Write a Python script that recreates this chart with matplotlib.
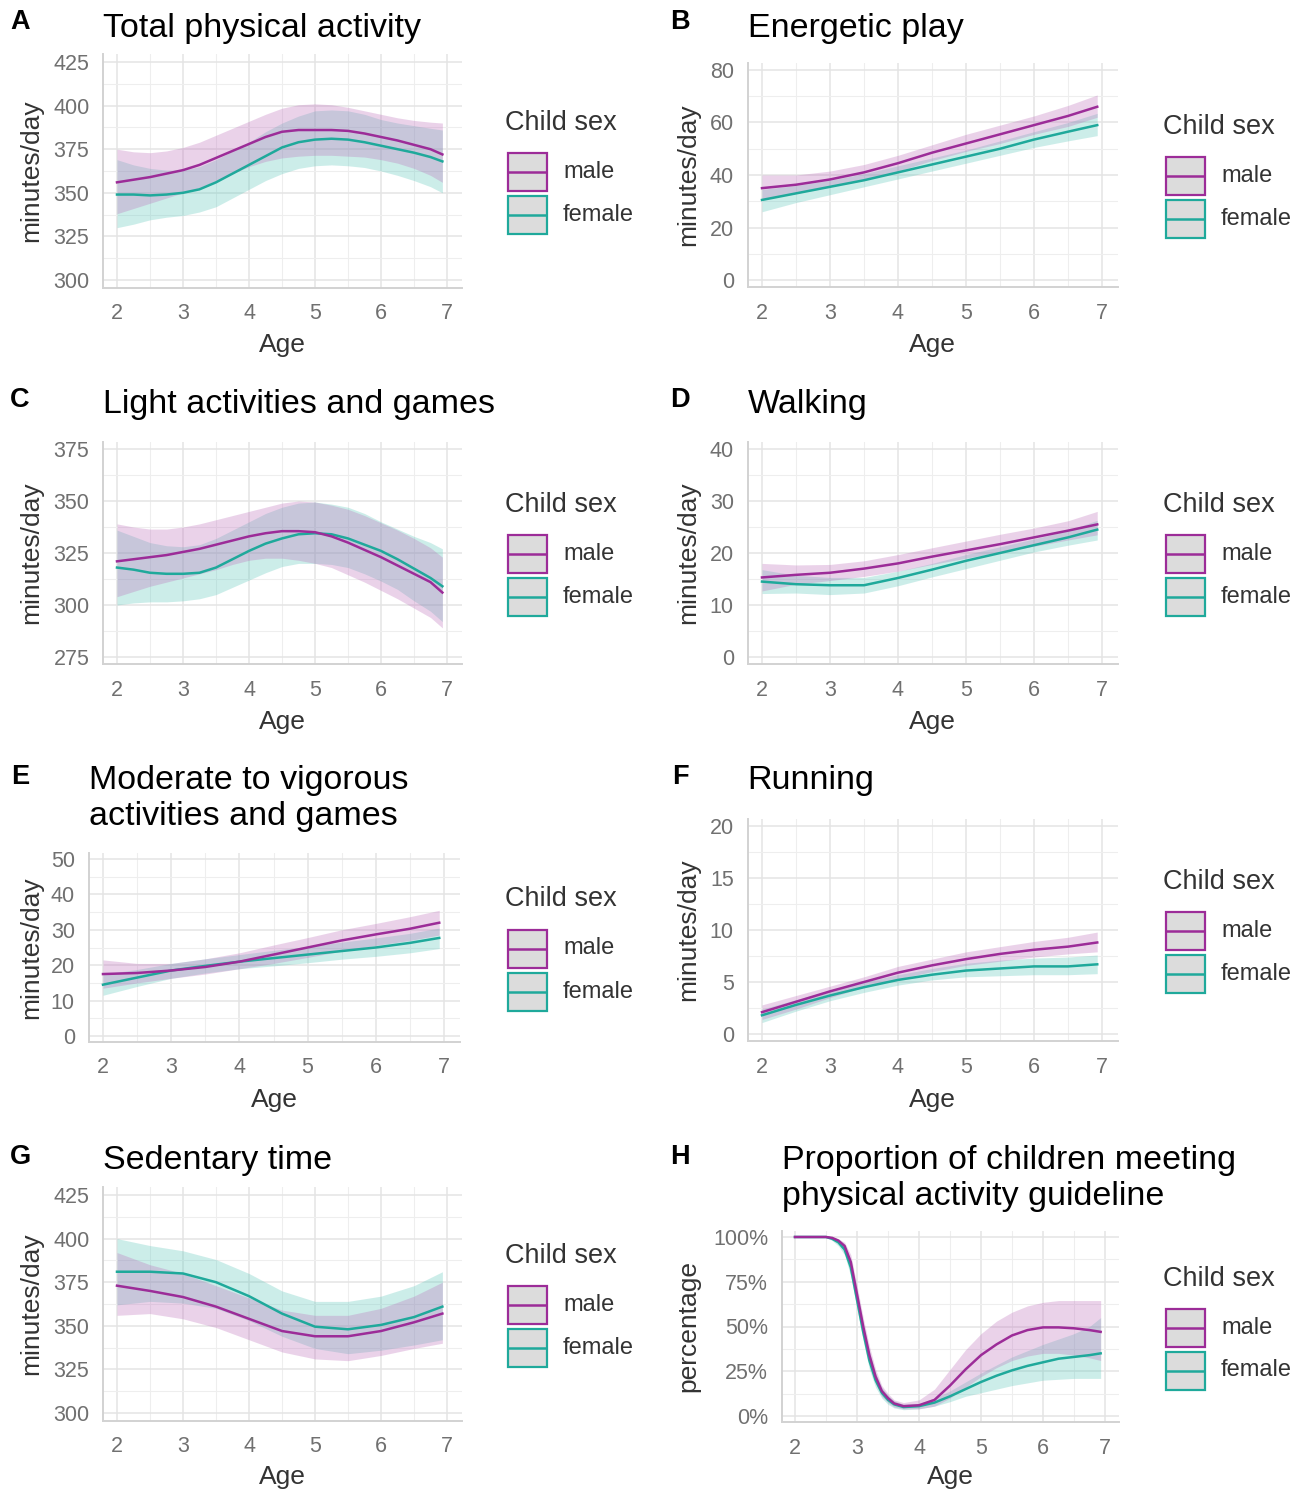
import matplotlib
matplotlib.use("Agg")
import matplotlib.pyplot as plt
from matplotlib.patches import Rectangle
from matplotlib.ticker import MultipleLocator, FuncFormatter

plt.rcParams['font.family'] = ['Liberation Sans', 'DejaVu Sans']

ages_q = [2.0, 2.25, 2.5, 2.75, 3.0, 3.25, 3.5, 3.75, 4.0, 4.25, 4.5,
          4.75, 5.0, 5.25, 5.5, 5.75, 6.0, 6.25, 6.5, 6.75, 6.93]
ages_h = [2.0, 2.5, 3.0, 3.5, 4.0, 4.5, 5.0, 5.5, 6.0, 6.5, 6.93]
ages_g = [2.0, 2.25, 2.5, 2.6, 2.7, 2.8, 2.9, 3.0, 3.1, 3.2, 3.3, 3.4, 3.5, 3.6,
          3.75, 4.0, 4.25, 4.5, 4.75, 5.0, 5.25, 5.5, 5.75, 6.0, 6.25, 6.5, 6.75, 6.93]

# A - total physical activity
a_male = [356, 357.5, 359, 361, 363, 366, 370, 374, 378, 382, 385, 386, 386, 386, 385.5, 384, 382, 380, 377.5, 375, 372]
a_male_hi = [375, 373.5, 373, 374, 376, 379, 383, 387, 391, 395, 398.5, 400.5, 401, 400.5, 399, 397, 395, 393, 391.5, 390.5, 390]
a_male_lo = [338, 341, 344, 347, 350, 353, 357, 361, 365, 368, 370, 371, 371.5, 371.5, 371, 370.5, 369, 367, 364, 360, 356]
a_fem = [349, 349, 348.5, 349, 350, 352, 356, 361, 366, 371, 376, 379, 380.5, 381, 380.5, 379, 377, 375, 373, 370.5, 368]
a_fem_hi = [369, 366, 364, 363, 363, 365, 369, 374, 379, 385, 390, 394, 397, 397.5, 397, 395, 392, 390, 388.5, 387, 386]
a_fem_lo = [330, 332, 334.5, 336, 337, 339, 342, 347, 352, 357, 361, 364, 365.5, 366, 365.5, 364.5, 362.5, 360, 357, 353.5, 350]

# B - energetic play
b_male = [35, 36.3, 38.3, 41, 44.5, 48.5, 52, 55.5, 59, 62.5, 66]
b_male_hi = [40, 40, 41.5, 44, 47.5, 51.5, 55.5, 59, 62.5, 66.5, 70.5]
b_male_lo = [31, 33, 35.5, 38, 41.5, 45.5, 49, 52, 55.5, 58.5, 62]
b_fem = [30.5, 33, 35.5, 38, 41, 44, 47, 50, 53.5, 56.5, 59]
b_fem_hi = [34.5, 36, 38, 40.5, 43.5, 46.5, 49.5, 53, 56.5, 60, 63.5]
b_fem_lo = [26, 29.5, 32.5, 35.5, 38.5, 41.5, 44.5, 47.5, 50.5, 53, 55]

# C - light activities and games
c_male = [321, 322, 323, 324, 325.5, 327, 329, 331, 333, 334.5, 335.5, 335.5, 335, 333, 330, 326.5, 323, 319, 315, 311, 306]
c_male_hi = [339, 337.5, 336.5, 336.5, 337.5, 339, 341, 343, 345, 347, 349, 350, 349.5, 348, 346, 343, 339.5, 336, 332, 327.5, 323]
c_male_lo = [304, 306.5, 309, 311, 313, 315, 317, 319.5, 321.5, 322.5, 322.5, 321.5, 320, 318, 314.5, 311, 307, 303, 298.5, 294, 289]
c_fem = [318, 317, 315.5, 315, 315, 315.5, 318, 322, 326, 329.5, 332, 334, 334.5, 334, 332, 329, 326, 322, 317.5, 313, 309]
c_fem_hi = [336, 333, 330, 328.5, 328, 329, 332, 336, 340, 344, 347, 349, 349.5, 348.5, 347, 344, 340, 336.5, 333, 330, 327]
c_fem_lo = [300, 301, 301.5, 301.5, 302, 303, 305, 308.5, 312, 315.5, 318.5, 320, 320, 319.5, 318, 315, 311.5, 307.5, 302, 297, 292]

# D - walking
d_male = [15.3, 15.8, 16.2, 17, 18, 19.3, 20.5, 21.7, 23, 24.3, 25.5]
d_male_hi = [18, 17.7, 17.8, 18.5, 19.7, 21, 22.3, 23.6, 24.8, 26.2, 28]
d_male_lo = [12.7, 14, 14.7, 15.5, 16.5, 17.8, 19, 20.2, 21.3, 22.5, 23.5]
d_fem = [14.5, 14, 13.8, 13.8, 15.2, 16.8, 18.5, 20, 21.5, 23, 24.5]
d_fem_hi = [16.8, 15.7, 15.3, 15.3, 16.5, 18, 19.7, 21.2, 22.7, 24.3, 26.3]
d_fem_lo = [12.2, 12.3, 12, 12.3, 13.7, 15.4, 17, 18.6, 20.2, 21.5, 22.5]

# E - moderate to vigorous
e_male = [17.5, 17.8, 18.5, 19.5, 21, 23, 25, 27, 28.7, 30.3, 32]
e_male_hi = [21.5, 20.5, 20.5, 21.8, 23.5, 25.7, 27.8, 30, 31.8, 33.7, 35.5]
e_male_lo = [13.5, 15, 16.3, 17.5, 19, 20.5, 22.2, 24, 25.6, 27, 28.5]
e_fem = [14.5, 16.5, 18.5, 19.8, 21, 22, 23, 24, 25, 26.3, 27.7]
e_fem_hi = [17.5, 18.8, 20.5, 21.8, 23, 24.2, 25.3, 26.5, 27.7, 29, 30.5]
e_fem_lo = [11.5, 14, 16.3, 17.8, 19, 19.8, 20.7, 21.7, 22.5, 23.5, 24.7]

# F - running
f_male = [2.1, 3.1, 4.1, 5.0, 5.9, 6.6, 7.2, 7.7, 8.1, 8.4, 8.8]
f_male_hi = [2.8, 3.7, 4.6, 5.5, 6.5, 7.2, 7.9, 8.4, 8.9, 9.3, 9.8]
f_male_lo = [1.4, 2.4, 3.5, 4.5, 5.3, 6.0, 6.6, 7.0, 7.4, 7.7, 7.9]
f_fem = [1.8, 2.8, 3.7, 4.5, 5.2, 5.7, 6.1, 6.3, 6.5, 6.5, 6.7]
f_fem_hi = [2.4, 3.3, 4.2, 5.0, 5.7, 6.3, 6.8, 7.1, 7.3, 7.4, 7.6]
f_fem_lo = [1.1, 2.2, 3.2, 4.0, 4.7, 5.2, 5.5, 5.6, 5.7, 5.7, 5.8]

# G - sedentary time
g_male = [373, 370, 366.5, 361, 354, 347, 344, 344, 347, 352, 357]
g_male_hi = [392, 385, 380, 373, 366, 359, 356, 356, 360, 367, 375]
g_male_lo = [356, 357, 354, 349, 342, 335, 331, 330, 333, 337, 340]
g_fem = [381, 381, 380, 375, 367, 357, 349.5, 348, 350.5, 355, 361]
g_fem_hi = [400, 396, 393, 388, 380, 370, 364, 364, 367, 373, 381]
g_fem_lo = [362, 364, 363, 360, 353, 344, 337, 334, 336, 339, 342]

# H - proportion meeting guideline (%)
h_male = [100, 100, 100, 99.5, 98, 95, 86, 68, 50, 34, 22, 14, 10, 7, 5.5, 6, 9, 17, 26, 34, 40, 45, 48, 49.5, 49.5, 49, 48, 47]
h_male_hi = [100, 100, 100, 100, 99, 97, 90, 73, 55, 39, 26, 17, 12.5, 9, 7.5, 9, 15, 26, 37, 46, 53, 58, 61.5, 63.5, 64.5, 64.5, 64.5, 64.5]
h_male_lo = [100, 100, 100, 99, 97, 93, 82, 63, 45, 29, 18, 11, 7.5, 5, 4, 4, 5.5, 10, 16, 22, 27, 31, 33.5, 35, 35, 34, 32.5, 31]
h_fem = [100, 100, 100, 99, 97, 93, 83, 65, 47, 31, 20, 13, 9, 6.5, 5, 5.5, 7.5, 11, 15, 19, 22.5, 25.5, 28, 30, 32, 33, 34, 35]
h_fem_hi = [100, 100, 100, 100, 98.5, 95.5, 87, 70, 52, 36, 24, 16, 11.5, 8.5, 6.5, 7, 10, 14, 19, 24, 28.5, 33, 36.5, 40, 43, 46, 50, 55]
h_fem_lo = [100, 100, 100, 98, 95, 90, 78, 60, 42, 26, 16, 10, 6.5, 4.5, 3.5, 4, 5.5, 8, 11, 13, 15, 17, 18.5, 20, 20.5, 21, 21, 21]

sexes = ["male", "female"]

W, H = 1303, 1493
MALE, FEMALE = "#9C2C98", "#1FA99B"
MALE_FILL, FEMALE_FILL = "#BC6CB9", "#58C6B9"

# letter, title lines, ages, series, y range, y step, ylabel, pct,
# pixel positions: x of tick 2, x of tick 7, y of top tick, y of bottom tick
panels = [
    ("A", ["Total physical activity"], ages_q,
     (a_male, a_male_lo, a_male_hi, a_fem, a_fem_lo, a_fem_hi),
     (300, 425), 25, "minutes/day", False, (117, 447, 62, 280)),
    ("B", ["Energetic play"], ages_h,
     (b_male, b_male_lo, b_male_hi, b_fem, b_fem_lo, b_fem_hi),
     (0, 80), 20, "minutes/day", False, (762, 1102, 70, 280)),
    ("C", ["Light activities and games"], ages_q,
     (c_male, c_male_lo, c_male_hi, c_fem, c_fem_lo, c_fem_hi),
     (275, 375), 25, "minutes/day", False, (117, 447, 449, 657)),
    ("D", ["Walking"], ages_h,
     (d_male, d_male_lo, d_male_hi, d_fem, d_fem_lo, d_fem_hi),
     (0, 40), 10, "minutes/day", False, (762, 1102, 449, 657)),
    ("E", ["Moderate to vigorous", "activities and games"], ages_h,
     (e_male, e_male_lo, e_male_hi, e_fem, e_fem_lo, e_fem_hi),
     (0, 50), 10, "minutes/day", False, (103, 444, 859, 1036)),
    ("F", ["Running"], ages_h,
     (f_male, f_male_lo, f_male_hi, f_fem, f_fem_lo, f_fem_hi),
     (0, 20), 5, "minutes/day", False, (762, 1102, 826, 1034)),
    ("G", ["Sedentary time"], ages_h,
     (g_male, g_male_lo, g_male_hi, g_fem, g_fem_lo, g_fem_hi),
     (300, 425), 25, "minutes/day", False, (117, 447, 1195, 1413)),
    ("H", ["Proportion of children meeting", "physical activity guideline"], ages_g,
     (h_male, h_male_lo, h_male_hi, h_fem, h_fem_lo, h_fem_hi),
     (0, 100), 25, "percentage", True, (795, 1105, 1237, 1416)),
]

# per row: y of first title line, y of panel letter, y of "Age"
row_title_y = [28, 405, 781, 1160]
row_letter_y = [22, 400, 777, 1157]
row_age_y = [345, 722, 1100, 1477]

fig = plt.figure(figsize=(W / 100, H / 100), dpi=100)

ov = fig.add_axes([0, 0, 1, 1])
ov.set_xlim(0, W)
ov.set_ylim(H, 0)
ov.axis("off")

XLO, XHI = 1.79, 7.23
EXP = 0.035

for idx, (letter, title, ages, ser, (ymin, ymax), ystep, ylab, pct, (x2, x7, yt, yb)) in enumerate(panels):
    row, col = idx // 2, idx % 2
    ppu = (x7 - x2) / 5.0
    left = x2 - (2 - XLO) * ppu
    right = x7 + (XHI - 7) * ppu
    top = yt - EXP * (yb - yt)
    bot = yb + EXP * (yb - yt)
    ax = fig.add_axes([left / W, 1 - bot / H, (right - left) / W, (bot - top) / H])
    rng = ymax - ymin
    ax.set_xlim(XLO, XHI)
    ax.set_ylim(ymin - EXP * rng, ymax + EXP * rng)

    ax.xaxis.set_major_locator(MultipleLocator(1))
    ax.xaxis.set_minor_locator(MultipleLocator(0.5))
    ax.yaxis.set_major_locator(MultipleLocator(ystep))
    ax.yaxis.set_minor_locator(MultipleLocator(ystep / 2))
    if pct:
        ax.yaxis.set_major_formatter(FuncFormatter(lambda v, p: f"{v:.0f}%"))
    ax.grid(which="major", color="#E4E4E4", lw=1.1)
    ax.grid(which="minor", color="#EEEEEE", lw=0.8)
    ax.set_axisbelow(True)
    for s in ["top", "right"]:
        ax.spines[s].set_visible(False)
    for s in ["left", "bottom"]:
        ax.spines[s].set_color("#D2D2D2")
        ax.spines[s].set_linewidth(1.4)
    ax.tick_params(which="both", length=0, labelsize=15.5, labelcolor="#707070")
    ax.tick_params(axis="y", pad=10)
    ax.tick_params(axis="x", pad=11)

    m, mlo, mhi, f, flo, fhi = ser
    ax.fill_between(ages, flo, fhi, color=FEMALE_FILL, alpha=0.3, lw=0)
    ax.fill_between(ages, mlo, mhi, color=MALE_FILL, alpha=0.3, lw=0)
    ax.plot(ages, f, color=FEMALE, lw=1.8)
    ax.plot(ages, m, color=MALE, lw=1.8)

    # panel letter and title
    lx = 20 if col == 0 else 680
    ov.text(lx, row_letter_y[row], letter, fontsize=19.5, fontweight="bold",
            ha="center", va="center", color="black")
    for i, line in enumerate(title):
        ov.text(left, row_title_y[row] + 36 * i, line, fontsize=24.5,
                ha="left", va="center", color="black")

    # axis titles
    cx = (left + right) / 2
    cy = (top + bot) / 2
    ov.text(cx, row_age_y[row], "Age", fontsize=19, ha="center", va="center", color="#333333")
    yx = 31 if col == 0 else 688
    ov.text(yx, cy, ylab, fontsize=19, rotation=90, ha="center", va="center", color="#333333")

    # legend
    gx = 505 if col == 0 else 1163
    ov.text(gx, cy - 48, "Child sex", fontsize=19.5, ha="left", va="center", color="#333333")
    for k, (name, c) in enumerate(zip(sexes, [MALE, FEMALE])):
        ky = cy + 1 + 43 * k
        ov.add_patch(Rectangle((gx + 3, ky - 19), 39, 38, facecolor="#DCDCDC",
                               edgecolor=c, lw=1.6))
        ov.plot([gx + 4, gx + 41], [ky, ky], color=c, lw=1.8)
        ov.text(gx + 58, ky, name, fontsize=17, ha="left", va="center", color="#333333")

fig.savefig("out.png", dpi=100)
